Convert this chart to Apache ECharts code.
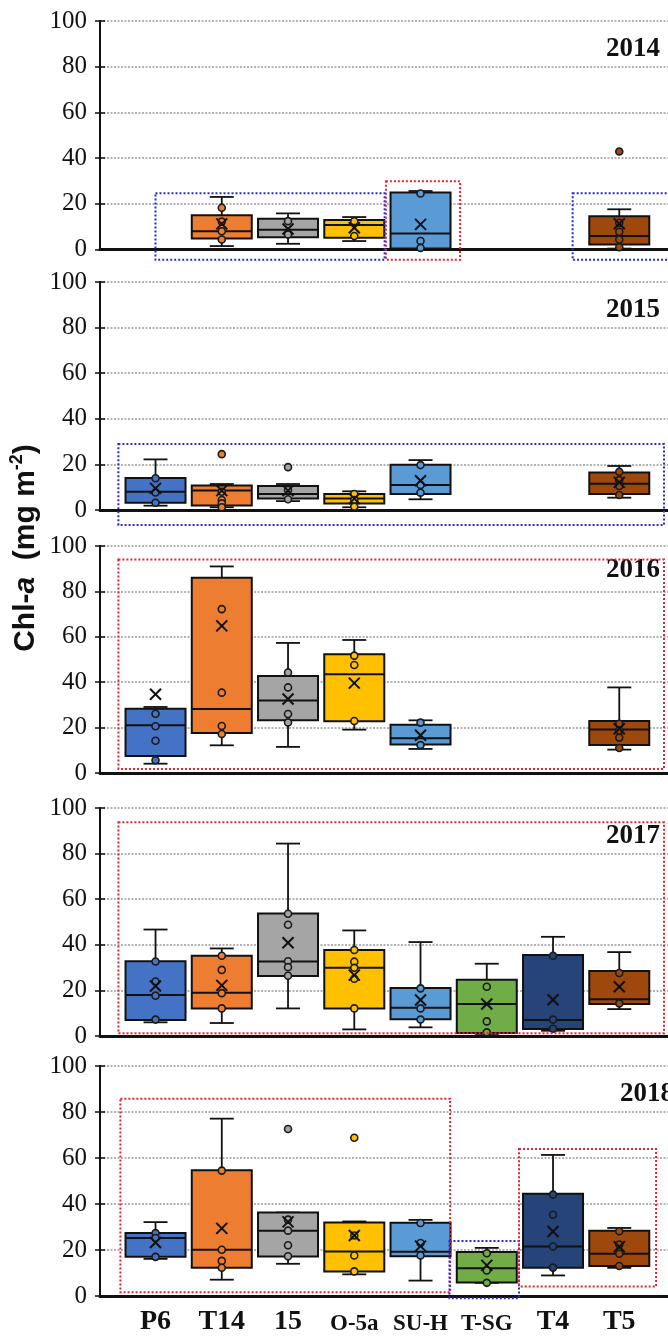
<!DOCTYPE html>
<html><head><meta charset="utf-8">
<script src="https://cdn.jsdelivr.net/npm/echarts@6/dist/echarts.min.js"></script>
<style>html,body{margin:0;padding:0;background:#fff}#c{width:668px;height:1336px}</style>
</head><body><div id="c"></div>
<script>
// ---------------- data ----------------
const categories = ['P6', 'T14', '15', 'O-5a', 'SU-H', 'T-SG', 'T4', 'T5'];
const smallLabels = ['O-5a', 'SU-H', 'T-SG'];
const years = ['2014', '2015', '2016', '2017', '2018'];
const colors = ['#4472C4', '#ED7D31', '#A5A5A5', '#FFC000', '#5B9BD5', '#70AD47', '#264478', '#9E480E'];
const yTickValues = [0, 20, 40, 60, 80, 100];

// box statistics per category: [min, Q1, median, Q3, max]
const box2014 = [null, [1.5, 4.8, 8, 15, 23], [2.5, 5.4, 8.6, 13.5, 15.8], [3.7, 5.1, 10.7, 12.9, 14.2], [0, 0.4, 7, 24.9, 25.6], null, null, [0.4, 2.2, 5.9, 14.6, 17.6]];
const box2015 = [[1.9, 3.2, 8, 14, 22.2], [1.2, 2, 8.5, 10.8, 11.4], [3.9, 5, 7, 10.5, 11.4], [1.2, 2.9, 5, 7, 8.2], [4.7, 7, 11, 19.9, 21.9], null, null, [5.4, 7, 11.5, 16.5, 19.3]];
const box2016 = [[4.1, 7.5, 21, 28.3, 29.1], [12.2, 17.6, 28.2, 86, 91], [11.5, 23.2, 31.9, 42.7, 57.3], [19.1, 22.8, 43.5, 52.3, 58.6], [10.6, 12.6, 15.3, 21.3, 23.2], null, null, [10.3, 12.3, 19.2, 22.9, 37.7]];
const box2017 = [[6, 7, 18, 32.8, 46.7], [5.7, 12.1, 19, 35.2, 38.4], [12.1, 26.3, 32.7, 53.7, 84.4], [2.9, 12.1, 29.9, 37.7, 46.3], [3.8, 7.3, 12.4, 21, 41.2], [0.4, 1.3, 14, 24.7, 31.7], [2.3, 3.1, 7, 35.5, 43.5], [11.8, 14, 16.1, 28.5, 36.8]];
const box2018 = [[13.9, 14.8, 23.2, 25.4, 30.3], [4.6, 9.9, 18, 53.5, 76.5], [11.7, 14.9, 26.5, 34.6, 34.6], [7, 8.3, 17.2, 30.1, 30.6], [4.2, 15.1, 17.1, 30, 31.3], [3.2, 3.3, 9.7, 17, 18.8], [6.5, 9.9, 19.4, 43, 60.3], [9.9, 10.7, 16.2, 26.5, 27.7]];

// means (x markers)
const mean2014 = [null, 11.2, 9, 9.5, 11, null, null, 11.3];
const mean2015 = [9.5, 8.5, 8.5, 5, 12.8, null, null, 12.1];
const mean2016 = [34.7, 64.8, 32.6, 39.6, 16.6, null, null, 19.5];
const mean2017 = [21.9, 22.2, 40.9, 26.7, 15.8, 14, 15.9, 21.6];
const mean2018 = [21.2, 27.5, 30.4, 24.3, 19.6, 11, 26.1, 19.3];

// inner points
const points2014 = [[], [18.3, 12.2, 8, 4.4], [12.4, 6.6], [12.4, 5.9], [24.5, 3.7, 0.7], [], [], [11.7, 7.8, 4.4, 1]];
const points2015 = [[13.9, 7.7, 3.2], [8, 4.4, 2.9, 1.2], [8.8, 4.7], [7, 4.4, 1.5], [19.7, 11, 7.6], [], [], [16.8, 13.1, 10.5, 6.6]];
const points2016 = [[26.1, 20.6, 14.2, 5.6], [72.2, 35.4, 20.7, 17.2], [44.3, 37.7, 26, 22.3], [51.7, 47.6, 22.9], [22.2, 12.3], [], [], [21.7, 18.8, 15.6, 11]];
const points2017 = [[32.7, 23.9, 17.7, 7.2], [35.2, 29, 18.8, 12.1], [53.6, 48.8, 32.8, 30.2, 26.4], [37.7, 32.6, 29.9, 25.1, 12.1], [20.9, 12.1, 7.2], [21.6, 6.4, 1.6], [35.2, 7.2, 3.2], [27.6, 14.3]];
const points2018 = [[25.4, 23.2, 14.8], [53.3, 18, 13, 9.9], [31.4, 26.5, 20, 15.1], [24.3, 15.4, 8.3], [29.9, 21, 15.4], [16.4, 8.7, 3.2], [42.6, 33.6, 19.4, 10], [26.2, 20.3, 16.2, 10.7]];

// outliers
const outliers2014 = [[], [], [], [], [], [], [], [42.9]];
const outliers2015 = [[], [24.5], [18.8], [], [], [], [], []];
const outliers2016 = [[], [], [], [], [], [], [], []];
const outliers2017 = [[], [], [], [], [], [], [], []];
const outliers2018 = [[], [], [71.9], [68], [], [], [], []];

// dotted annotation frames: [kind, xFrom(category index), yFrom, xTo, yTo]
const frames2014 = [['b', 0, -4.5, 3.46, 24.6], ['r', 3.48, -4.5, 4.6, 29.9], ['b', 6.3, -4.5, 7.84, 24.6]];
const frames2015 = [['b', -0.56, -6.6, 7.68, 28.9]];
const frames2016 = [['r', -0.56, 1.8, 7.68, 94]];
const frames2017 = [['r', -0.56, 1.2, 7.68, 93.7]];
const frames2018 = [['r', -0.53, 1.6, 4.45, 85.8], ['b', 4.44, -1, 5.49, 23.9], ['r', 5.49, 4.1, 7.56, 63.9]];

const boxes = [box2014, box2015, box2016, box2017, box2018];
const means = [mean2014, mean2015, mean2016, mean2017, mean2018];
const points = [points2014, points2015, points2016, points2017, points2018];
const outliers = [outliers2014, outliers2015, outliers2016, outliers2017, outliers2018];
const frames = [frames2014, frames2015, frames2016, frames2017, frames2018];

// ---------------- layout ----------------
const panelTop = [21, 282, 546, 808, 1066];
const panelH = [228.5, 228, 227, 228, 230];
const axisX = 100;
const bandLeft = 122.4, bandW = 530;
const xMin = -0.838, xMax = 7.74;
const frameColor = { b: '#2a2ad0', r: '#e8222e' };
const serif = "'Liberation Serif', 'Times New Roman', serif";
const sans = "'Liberation Sans', Arial, sans-serif";

const grid = [], xAxis = [], yAxis = [], series = [], graphic = [];

years.forEach((yr, p) => {
  const top = panelTop[p], h = panelH[p];
  const g0 = 2 * p, g1 = 2 * p + 1;
  grid.push({ left: axisX, right: 0, top: top, height: h });
  grid.push({ left: bandLeft, width: bandW, top: top, height: h });

  xAxis.push({
    type: 'value', gridIndex: g0, min: xMin, max: xMax,
    axisLine: { show: true, onZero: false, lineStyle: { color: '#111', width: 3 } },
    axisTick: { show: false }, axisLabel: { show: false }, splitLine: { show: false }
  });
  xAxis.push({
    type: 'category', gridIndex: g1, data: categories,
    axisLine: { show: false }, axisTick: { show: false },
    axisLabel: p === 4 ? {
      show: true, interval: 0, margin: 16,
      formatter: v => smallLabels.includes(v) ? '{s|' + v + '}' : '{b|' + v + '}',
      rich: {
        b: { fontFamily: serif, fontWeight: 'bold', fontSize: 28, color: '#111', lineHeight: 32 },
        s: { fontFamily: serif, fontWeight: 'bold', fontSize: 23, color: '#111', lineHeight: 32, padding: [5, 0, 0, 0] }
      }
    } : { show: false },
    splitLine: { show: false }
  });

  // main y axis (labels, outer ticks, gridlines)
  yAxis.push({
    type: 'value', gridIndex: g0, min: 0, max: 100, interval: 20,
    axisLine: { show: true, onZero: false, lineStyle: { color: '#111', width: 2 } },
    axisTick: { show: true, length: 5, lineStyle: { color: '#111', width: 1.5 } },
    axisLabel: { show: true, margin: 13, fontFamily: serif, fontSize: 25, color: '#111',
      customValues: yTickValues },
    splitLine: { show: true, lineStyle: { color: '#9a9a9a', width: 1.5, type: [2, 1.5] } }
  });
  // inner tick marks
  yAxis.push({
    type: 'value', gridIndex: g0, min: 0, max: 100, interval: 20, position: 'left',
    axisLine: { show: false, onZero: false },
    axisTick: { show: true, inside: true, length: 5, lineStyle: { color: '#111', width: 1.5 } },
    axisLabel: { show: false }, splitLine: { show: false }
  });
  // y axis of the category grid (hidden)
  yAxis.push({
    type: 'value', gridIndex: g1, min: 0, max: 100, interval: 20,
    axisLine: { show: false }, axisTick: { show: false }, axisLabel: { show: false }, splitLine: { show: false }
  });
  const xa0 = 2 * p, xa1 = 2 * p + 1;
  const ya0 = 3 * p, ya1 = 3 * p + 2;

  // boxes
  const boxData = [];
  boxes[p].forEach((b, i) => { if (b) boxData.push([i].concat(b)); });
  series.push({
    type: 'custom', xAxisIndex: xa1, yAxisIndex: ya1, z: 2, clip: false,
    data: boxData, encode: { x: 0, y: [1, 2, 3, 4, 5] },
    renderItem: (params, api) => {
      const i = api.value(0);
      const c = k => api.coord([i, api.value(k)]);
      const mn = c(1), q1 = c(2), md = c(3), q3 = c(4), mx = c(5);
      const cx = mn[0], hw = 30, cw = 12;
      const ls = { stroke: '#111', lineWidth: 1.8 };
      return {
        type: 'group', children: [
          { type: 'line', shape: { x1: cx, y1: mx[1], x2: cx, y2: q3[1] }, style: ls },
          { type: 'line', shape: { x1: cx, y1: q1[1], x2: cx, y2: mn[1] }, style: ls },
          { type: 'line', shape: { x1: cx - cw, y1: mx[1], x2: cx + cw, y2: mx[1] }, style: ls },
          { type: 'line', shape: { x1: cx - cw, y1: mn[1], x2: cx + cw, y2: mn[1] }, style: ls },
          { type: 'rect', shape: { x: cx - hw, y: q3[1], width: 2 * hw, height: q1[1] - q3[1] },
            style: { fill: colors[i], stroke: '#111', lineWidth: 2 } },
          { type: 'line', shape: { x1: cx - hw, y1: md[1], x2: cx + hw, y2: md[1] }, style: { stroke: '#111', lineWidth: 2 } }
        ]
      };
    }
  });

  // inner points + outliers
  const ptData = [];
  points[p].forEach((arr, i) => arr.forEach(v => ptData.push([i, v])));
  outliers[p].forEach((arr, i) => arr.forEach(v => ptData.push([i, v])));
  series.push({
    type: 'scatter', xAxisIndex: xa1, yAxisIndex: ya1, z: 3, symbol: 'circle', symbolSize: 7,
    data: ptData, silent: true,
    itemStyle: { color: prm => colors[prm.value[0]], borderColor: '#1a1a1a', borderWidth: 1.6, opacity: 1 }
  });

  // means
  const mData = [];
  means[p].forEach((m, i) => { if (m !== null) mData.push([i, m]); });
  series.push({
    type: 'custom', xAxisIndex: xa1, yAxisIndex: ya1, z: 4, clip: false,
    data: mData, encode: { x: 0, y: 1 },
    renderItem: (params, api) => {
      const pt = api.coord([api.value(0), api.value(1)]);
      const s = 5.5, st = { stroke: '#111', lineWidth: 2 };
      return { type: 'group', children: [
        { type: 'line', shape: { x1: pt[0] - s, y1: pt[1] - s, x2: pt[0] + s, y2: pt[1] + s }, style: st },
        { type: 'line', shape: { x1: pt[0] - s, y1: pt[1] + s, x2: pt[0] + s, y2: pt[1] - s }, style: st }
      ] };
    }
  });

  // dotted frames
  series.push({
    type: 'custom', xAxisIndex: xa0, yAxisIndex: ya0, z: 5, clip: false,
    data: frames[p].map(f => [f[1], f[2], f[3], f[4], f[0] === 'b' ? 0 : 1]),
    encode: { x: [0, 2], y: [1, 3] },
    renderItem: (params, api) => {
      const a = api.coord([api.value(0), api.value(3)]);
      const b = api.coord([api.value(2), api.value(1)]);
      return { type: 'rect', shape: { x: a[0], y: a[1], width: b[0] - a[0], height: b[1] - a[1] },
        style: { fill: 'none', stroke: api.value(4) === 0 ? frameColor.b : frameColor.r, lineWidth: 2, lineDash: [2, 2] } };
    }
  });

  // year label
  graphic.push({
    type: 'text', x: p === 4 ? 674 : 660, y: top + (p === 2 ? 24 : 28),
    style: { text: yr, fontFamily: serif, fontWeight: 'bold', fontSize: 27, fill: '#111',
      textAlign: 'right', textVerticalAlign: 'middle' }
  });
});

graphic.push({
  type: 'text', x: 26, y: 548, rotation: Math.PI / 2,
  style: {
    text: '{n|Chl-}{i|a}{n|  (mg m}{s|-2}{n|)}',
    textAlign: 'center', textVerticalAlign: 'middle',
    rich: {
      n: { fontFamily: sans, fontWeight: 'bold', fontSize: 30, fill: '#111', lineHeight: 36 },
      i: { fontFamily: sans, fontWeight: 'bold', fontStyle: 'italic', fontSize: 30, fill: '#111', lineHeight: 36 },
      s: { fontFamily: sans, fontWeight: 'bold', fontSize: 18, fill: '#111', lineHeight: 36, verticalAlign: 'top', padding: [0, 0, 14, 0] }
    }
  }
});

const chart = echarts.init(document.getElementById('c'), null, { renderer: 'canvas' });
chart.setOption({
  animation: false,
  backgroundColor: '#fff',
  grid: grid, xAxis: xAxis, yAxis: yAxis, series: series, graphic: graphic
});
</script></body></html>
